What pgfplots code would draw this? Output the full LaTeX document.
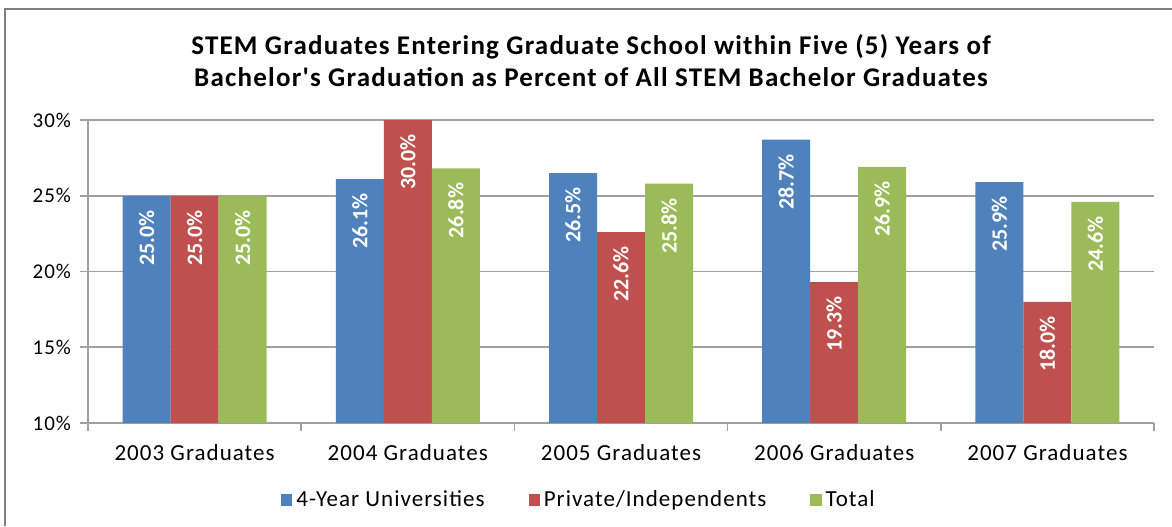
\documentclass[border=0pt]{standalone}
\usepackage{fontspec}
\setmainfont{Carlito}
\newfontfamily\widefont{Carlito}[LetterSpace=4.5]
\usepackage{pgfplots}
\pgfplotsset{compat=1.18}

\definecolor{xlblue}{HTML}{4F81BD}
\definecolor{xlred}{HTML}{C0504D}
\definecolor{xlgreen}{HTML}{9BBB59}
\definecolor{xlgrid}{HTML}{A0A0A0}

\begin{document}
\begin{tikzpicture}
\useasboundingbox (0,0) rectangle (586pt,263pt);
\draw[xlgrid!80!black, line width=1.2pt] (2.5pt,0) -- (2.5pt,258.5pt) -- (586pt,258.5pt);
\node[font=\widefont\bfseries\fontsize{13.5}{16}\selectfont, align=center] at (295.5pt,232.5pt)
  {STEM Graduates Entering Graduate School within Five (5) Years of\\
   Bachelor's Graduation as Percent of All STEM Bachelor Graduates};
\begin{axis}[
  at={(44pt,51.5pt)}, anchor=south west,
  scale only axis, width=533pt, height=151.5pt,
  ybar=0pt, bar width=24pt,
  xmin=-0.5, xmax=4.5, ymin=10, ymax=30,
  xtick={0,1,2,3,4}, major x tick style={draw=none},
  xticklabels={2003 Graduates,2004 Graduates,2005 Graduates,2006 Graduates,2007 Graduates},
  minor xtick={-0.5,0.5,1.5,2.5,3.5,4.5},
  minor tick length=4pt,
  ytick={10,15,20,25,30}, major tick length=4pt,
  tick align=outside,
  yticklabel={\pgfmathprintnumber{\tick}\%},
  /pgf/number format/assume math mode=true,
  yticklabel style={font=\widefont\fontsize{10.5}{12}\selectfont, xshift=-1pt},
  xticklabel style={font=\widefont\fontsize{11.5}{13}\selectfont, yshift=-3pt},
  axis lines*=left,
  axis line style={xlgrid, line width=0.8pt},
  every tick/.style={xlgrid, line width=0.8pt},
  ymajorgrids, grid style={xlgrid, line width=0.8pt},
  nodes near coords={\pgfmathprintnumber[fixed,fixed zerofill,precision=1]{\pgfplotspointmeta}\%},
  every node near coord/.append style={rotate=90, anchor=east, text=white,
    font=\bfseries\fontsize{11}{12}\selectfont, inner xsep=7pt},
  legend style={at={(0.4615,-0.254)}, anchor=center, draw=none, fill=none,
    legend columns=3, font=\widefont\fontsize{11.5}{13}\selectfont,
    /tikz/every even column/.append style={column sep=20pt}},
  legend image code/.code={\fill[#1] (0pt,-2.8pt) rectangle (5.6pt,2.8pt);},
]
\addplot[fill=xlblue, draw=none] coordinates {(0,25.0) (1,26.1) (2,26.5) (3,28.7) (4,25.9)};
\addplot[fill=xlred, draw=none] coordinates {(0,25.0) (1,30.0) (2,22.6) (3,19.3) (4,18.0)};
\addplot[fill=xlgreen, draw=none] coordinates {(0,25.0) (1,26.8) (2,25.8) (3,26.9) (4,24.6)};
\legend{4-Year Universities,Private/Independents,Total}
\end{axis}
\end{tikzpicture}
\end{document}
